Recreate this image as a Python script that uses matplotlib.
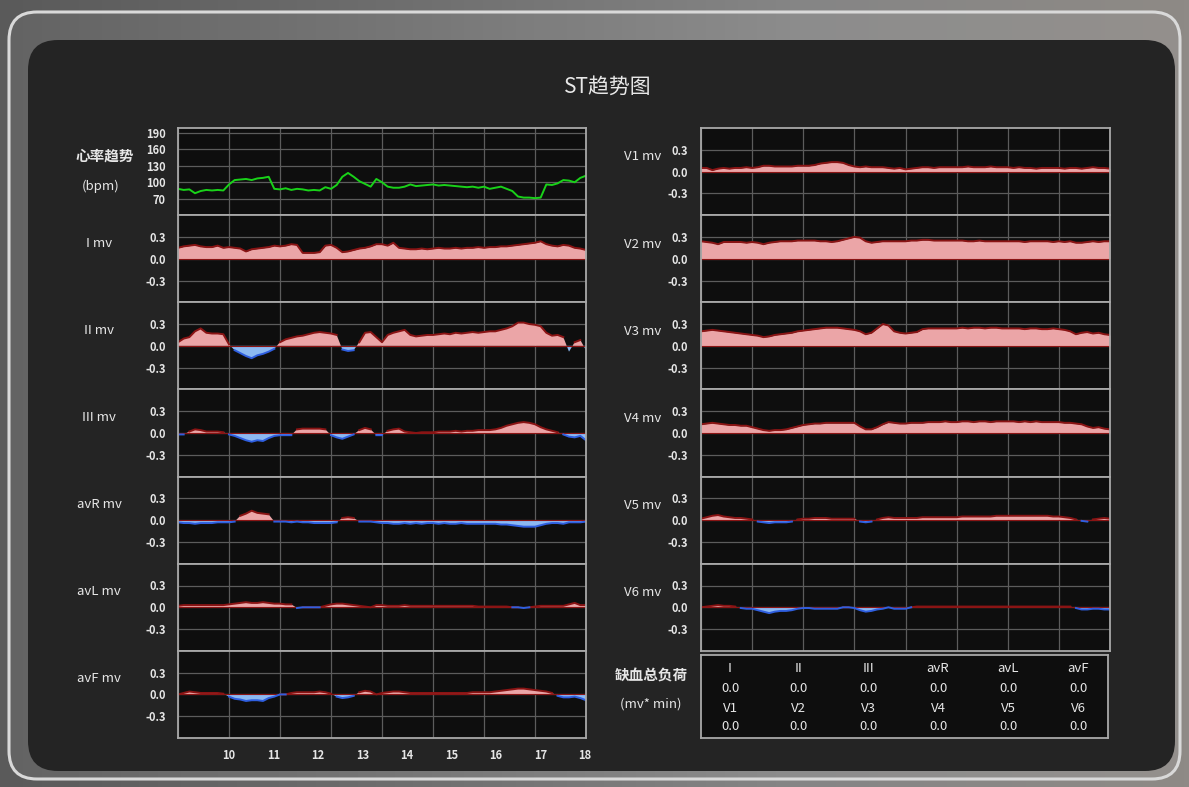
import numpy as np
import matplotlib.pyplot as plt
from matplotlib.patches import FancyBboxPatch
from matplotlib.colors import LinearSegmentedColormap

plt.rcParams['font.family'] = ['Noto Sans CJK SC', 'DejaVu Sans']

# sample times (hours of the day)
hours = np.linspace(8.85, 18.02, 73)
hour_ticks = [10, 11, 12, 13, 14, 15, 16, 17, 18]

# heart rate trend (bpm)
hr = [88, 86, 87, 80, 84, 86, 85, 86, 85,
      96, 104, 105, 106, 104, 107, 108, 110, 88,
      87, 89, 86, 88, 87, 85, 86, 85, 91,
      88, 95, 110, 117, 110, 102, 97, 92, 106,
      100, 92, 90, 90, 92, 96, 93, 94, 95,
      96, 94, 95, 94, 93, 92, 91, 92, 90,
      92, 88, 90, 92, 88, 84, 74, 72, 72,
      71, 72, 96, 95, 98, 104, 103, 100, 108,
      112]

# ST deviation per lead (mV)
st_I = [0.15, 0.17, 0.18, 0.19, 0.17, 0.16, 0.16, 0.18, 0.15,
        0.16, 0.15, 0.14, 0.10, 0.13, 0.14, 0.15, 0.16, 0.18,
        0.17, 0.18, 0.20, 0.19, 0.08, 0.08, 0.08, 0.09, 0.18,
        0.19, 0.15, 0.09, 0.10, 0.12, 0.14, 0.15, 0.17, 0.20,
        0.20, 0.18, 0.22, 0.15, 0.14, 0.13, 0.13, 0.14, 0.13,
        0.14, 0.15, 0.14, 0.14, 0.15, 0.14, 0.15, 0.15, 0.16,
        0.15, 0.16, 0.16, 0.17, 0.17, 0.18, 0.19, 0.20, 0.21,
        0.22, 0.24, 0.20, 0.18, 0.17, 0.19, 0.18, 0.15, 0.14,
        0.12]
st_II = [0.05, 0.10, 0.12, 0.20, 0.24, 0.18, 0.17, 0.17, 0.16,
         0.02, -0.06, -0.10, -0.14, -0.17, -0.13, -0.11, -0.08, -0.04,
         0.05, 0.09, 0.11, 0.13, 0.14, 0.16, 0.18, 0.19, 0.18,
         0.17, 0.15, -0.05, -0.07, -0.06, 0.05, 0.18, 0.19, 0.12,
         0.05, 0.15, 0.18, 0.20, 0.22, 0.15, 0.13, 0.14, 0.15,
         0.15, 0.16, 0.17, 0.16, 0.18, 0.17, 0.18, 0.19, 0.18,
         0.19, 0.20, 0.20, 0.22, 0.24, 0.27, 0.32, 0.32, 0.30,
         0.29, 0.27, 0.18, 0.14, 0.15, 0.12, -0.08, 0.05, 0.08,
         -0.06]
st_III = [-0.02, -0.02, 0.02, 0.05, 0.04, 0.02, 0.02, 0.02, 0.01,
          -0.02, -0.04, -0.07, -0.10, -0.12, -0.10, -0.11, -0.07, -0.04,
          -0.03, -0.03, -0.03, 0.05, 0.06, 0.06, 0.06, 0.06, 0.05,
          -0.03, -0.06, -0.08, -0.05, -0.02, 0.04, 0.07, 0.05, -0.03,
          -0.03, 0.03, 0.05, 0.06, 0.02, 0.01, 0.00, 0.01, 0.01,
          0.01, 0.02, 0.02, 0.02, 0.03, 0.02, 0.03, 0.03, 0.04,
          0.04, 0.04, 0.05, 0.07, 0.10, 0.12, 0.14, 0.15, 0.14,
          0.12, 0.08, 0.05, 0.03, 0.01, -0.02, -0.05, -0.06, -0.04,
          -0.10]
st_avR = [-0.03, -0.04, -0.04, -0.05, -0.04, -0.04, -0.04, -0.03, -0.03,
          -0.03, -0.02, 0.06, 0.09, 0.13, 0.10, 0.09, 0.08, -0.02,
          -0.02, -0.02, -0.03, -0.02, -0.03, -0.03, -0.04, -0.04, -0.04,
          -0.04, -0.03, 0.03, 0.04, 0.03, -0.02, -0.02, -0.02, -0.03,
          -0.04, -0.04, -0.05, -0.05, -0.04, -0.05, -0.04, -0.05, -0.04,
          -0.04, -0.05, -0.04, -0.05, -0.05, -0.04, -0.05, -0.05, -0.05,
          -0.05, -0.05, -0.05, -0.06, -0.06, -0.07, -0.08, -0.09, -0.09,
          -0.09, -0.07, -0.05, -0.04, -0.04, -0.05, -0.03, -0.03, -0.03,
          -0.02]
st_avL = [0.02, 0.03, 0.03, 0.03, 0.03, 0.03, 0.03, 0.03, 0.03,
          0.04, 0.05, 0.06, 0.07, 0.06, 0.06, 0.07, 0.06, 0.05,
          0.05, 0.04, 0.04, -0.01, 0.00, 0.00, 0.00, 0.00, 0.02,
          0.04, 0.05, 0.05, 0.04, 0.03, 0.02, 0.01, 0.00, 0.03,
          0.03, 0.02, 0.02, 0.02, 0.03, 0.02, 0.02, 0.02, 0.02,
          0.02, 0.02, 0.02, 0.02, 0.02, 0.02, 0.02, 0.02, 0.01,
          0.01, 0.01, 0.01, 0.01, 0.01, 0.00, 0.00, -0.01, 0.00,
          0.01, 0.02, 0.02, 0.02, 0.02, 0.02, 0.04, 0.06, 0.03,
          0.03]
st_avF = [0.00, 0.02, 0.04, 0.03, 0.02, 0.02, 0.02, 0.02, 0.01,
          -0.03, -0.06, -0.07, -0.09, -0.08, -0.08, -0.09, -0.05, -0.03,
          0.00, 0.00, 0.02, 0.03, 0.03, 0.03, 0.03, 0.04, 0.03,
          0.01, -0.03, -0.05, -0.04, -0.02, 0.03, 0.05, 0.04, 0.00,
          0.02, 0.03, 0.04, 0.04, 0.03, 0.02, 0.02, 0.02, 0.02,
          0.02, 0.02, 0.02, 0.02, 0.02, 0.02, 0.02, 0.03, 0.03,
          0.03, 0.03, 0.04, 0.05, 0.06, 0.07, 0.08, 0.08, 0.07,
          0.06, 0.05, 0.04, 0.02, -0.02, -0.04, -0.04, -0.03, -0.05,
          -0.08]
st_V1 = [0.05, 0.05, 0.02, 0.04, 0.05, 0.04, 0.05, 0.05, 0.06,
         0.05, 0.06, 0.08, 0.08, 0.07, 0.07, 0.07, 0.07, 0.08,
         0.08, 0.08, 0.09, 0.11, 0.12, 0.13, 0.13, 0.12, 0.09,
         0.07, 0.06, 0.07, 0.06, 0.06, 0.06, 0.05, 0.04, 0.05,
         0.03, 0.04, 0.05, 0.06, 0.06, 0.05, 0.06, 0.06, 0.06,
         0.06, 0.06, 0.07, 0.06, 0.06, 0.06, 0.07, 0.06, 0.06,
         0.06, 0.05, 0.06, 0.05, 0.05, 0.04, 0.05, 0.05, 0.05,
         0.05, 0.04, 0.05, 0.05, 0.04, 0.05, 0.06, 0.05, 0.05,
         0.04]
st_V2 = [0.24, 0.23, 0.22, 0.20, 0.23, 0.23, 0.23, 0.23, 0.22,
         0.23, 0.22, 0.20, 0.22, 0.23, 0.24, 0.24, 0.24, 0.25,
         0.25, 0.25, 0.25, 0.24, 0.24, 0.23, 0.24, 0.26, 0.28,
         0.30, 0.29, 0.24, 0.22, 0.23, 0.24, 0.24, 0.24, 0.24,
         0.24, 0.25, 0.25, 0.26, 0.26, 0.25, 0.25, 0.25, 0.25,
         0.25, 0.25, 0.24, 0.24, 0.25, 0.24, 0.24, 0.24, 0.24,
         0.24, 0.24, 0.24, 0.23, 0.24, 0.24, 0.24, 0.24, 0.23,
         0.24, 0.23, 0.24, 0.22, 0.22, 0.23, 0.24, 0.23, 0.24,
         0.24]
st_V3 = [0.20, 0.21, 0.22, 0.21, 0.20, 0.19, 0.18, 0.17, 0.16,
         0.15, 0.14, 0.12, 0.13, 0.15, 0.16, 0.17, 0.18, 0.20,
         0.21, 0.22, 0.23, 0.24, 0.25, 0.25, 0.25, 0.24, 0.23,
         0.22, 0.20, 0.16, 0.18, 0.24, 0.30, 0.28, 0.20, 0.18,
         0.17, 0.18, 0.19, 0.23, 0.24, 0.24, 0.24, 0.24, 0.24,
         0.24, 0.25, 0.24, 0.25, 0.25, 0.24, 0.25, 0.25, 0.24,
         0.24, 0.24, 0.24, 0.23, 0.24, 0.24, 0.23, 0.23, 0.24,
         0.23, 0.22, 0.20, 0.16, 0.18, 0.19, 0.17, 0.18, 0.16,
         0.15]
st_V4 = [0.12, 0.13, 0.14, 0.13, 0.12, 0.11, 0.11, 0.10, 0.10,
         0.08, 0.06, 0.04, 0.03, 0.04, 0.04, 0.05, 0.07, 0.09,
         0.11, 0.12, 0.13, 0.13, 0.14, 0.14, 0.14, 0.14, 0.14,
         0.14, 0.09, 0.05, 0.05, 0.08, 0.12, 0.15, 0.14, 0.13,
         0.13, 0.14, 0.14, 0.14, 0.15, 0.15, 0.15, 0.16, 0.15,
         0.15, 0.16, 0.16, 0.15, 0.16, 0.16, 0.15, 0.16, 0.16,
         0.16, 0.16, 0.15, 0.16, 0.15, 0.16, 0.15, 0.15, 0.15,
         0.15, 0.14, 0.14, 0.13, 0.12, 0.09, 0.07, 0.08, 0.06,
         0.05]
st_V5 = [0.02, 0.04, 0.06, 0.07, 0.05, 0.04, 0.03, 0.03, 0.02,
         0.01, -0.02, -0.03, -0.04, -0.03, -0.03, -0.03, -0.02, 0.01,
         0.02, 0.02, 0.03, 0.03, 0.03, 0.02, 0.02, 0.02, 0.02,
         0.02, -0.02, -0.03, -0.02, 0.01, 0.03, 0.04, 0.03, 0.03,
         0.03, 0.03, 0.03, 0.04, 0.04, 0.04, 0.04, 0.04, 0.04,
         0.04, 0.05, 0.05, 0.05, 0.05, 0.05, 0.05, 0.06, 0.06,
         0.06, 0.06, 0.06, 0.06, 0.06, 0.06, 0.06, 0.06, 0.05,
         0.05, 0.04, 0.03, 0.01, -0.01, -0.02, 0.01, 0.02, 0.03,
         0.02]
st_V6 = [0.00, 0.01, 0.02, 0.03, 0.02, 0.02, 0.01, -0.01, -0.02,
         -0.02, -0.04, -0.06, -0.08, -0.06, -0.05, -0.05, -0.04, -0.02,
         -0.01, -0.01, -0.02, -0.02, -0.02, -0.02, -0.02, 0.00, 0.00,
         -0.01, -0.04, -0.06, -0.05, -0.03, -0.02, 0.00, -0.02, -0.02,
         -0.02, 0.00, 0.01, 0.01, 0.01, 0.01, 0.01, 0.01, 0.01,
         0.01, 0.01, 0.01, 0.01, 0.01, 0.01, 0.01, 0.01, 0.01,
         0.01, 0.01, 0.01, 0.01, 0.01, 0.01, 0.01, 0.01, 0.01,
         0.01, 0.01, 0.01, -0.01, -0.03, -0.03, -0.02, -0.02, -0.03,
         -0.03]

left_leads = ["I", "II", "III", "avR", "avL", "avF"]
left_st = [st_I, st_II, st_III, st_avR, st_avL, st_avF]
right_leads = ["V1", "V2", "V3", "V4", "V5", "V6"]
right_st = [st_V1, st_V2, st_V3, st_V4, st_V5, st_V6]

# ischemic burden table
burden_row1 = ["I", "II", "III", "avR", "avL", "avF"]
burden_val1 = [0.0, 0.0, 0.0, 0.0, 0.0, 0.0]
burden_row2 = ["V1", "V2", "V3", "V4", "V5", "V6"]
burden_val2 = [0.0, 0.0, 0.0, 0.0, 0.0, 0.0]

W, H = 1189, 787
fig = plt.figure(figsize=(W / 100, H / 100), dpi=100)


def fx(px):
    return px / W


def fy(py):
    return 1 - py / H


# background, rounded frame and dark board
bg = fig.add_axes([0, 0, 1, 1], zorder=-10)
bg.set_xlim(0, W)
bg.set_ylim(H, 0)
bg.axis('off')
bg_cmap = LinearSegmentedColormap.from_list('bg', ['#5a5a5a', '#6e6e6e', '#858585', '#8e8a86'])
bg.imshow(np.linspace(0, 1, 256)[None, :], extent=[0, W, H, 0], cmap=bg_cmap, aspect='auto')
bg.add_patch(FancyBboxPatch((9, 12), 1171, 767, boxstyle='round,pad=0,rounding_size=28',
                            fc=(1, 1, 1, 0.06), ec='#d9d9d9', lw=2.2))
bg.add_patch(FancyBboxPatch((28, 40), 1147, 731, boxstyle='round,pad=0,rounding_size=30',
                            fc='#242424', ec='none'))

fig.text(fx(608), fy(87), "ST趋势图", ha='center', va='center', color='#e8e8e8', fontsize=15)

txt_color = '#e6e6e6'
grid_color = '#5c5c5c'
spine_color = '#a8a8a8'
face = '#0e0e0e'
xmin, xmax = 8.85, 18.02


def make_ax(x0, x1, top, bottom):
    ax = fig.add_axes([fx(x0), fy(bottom), fx(x1) - fx(x0), fy(top) - fy(bottom)])
    ax.set_facecolor(face)
    for s in ax.spines.values():
        s.set_color(spine_color)
        s.set_linewidth(1.3)
    ax.set_xlim(xmin, xmax)
    ax.set_xticks(hour_ticks)
    ax.set_xticks(np.linspace(xmin, xmax, 9), minor=True)
    ax.grid(False)
    ax.grid(True, which='minor', axis='x', color=grid_color, lw=0.9)
    ax.grid(True, which='major', axis='y', color=grid_color, lw=0.9)
    ax.tick_params(which='both', length=0, labelcolor=txt_color, labelsize=8, pad=9)
    ax.tick_params(axis='x', labelbottom=False)
    ax.set_axisbelow(True)
    return ax


def draw_st(ax, vals):
    y = np.array(vals)
    ax.fill_between(hours, y, 0, where=y >= 0, interpolate=True, color='#eba5a7', lw=0)
    ax.fill_between(hours, y, 0, where=y <= 0, interpolate=True, color='#8cb9f2', lw=0)
    ax.plot(hours, np.ma.masked_where(y < 0, y), color='#8a1414', lw=1.4)
    ax.plot(hours, np.ma.masked_where(y > 0, y), color='#2f5fe0', lw=1.4)
    ax.axhline(0, color='#8a1414', lw=0.8, zorder=1.5)
    ax.set_ylim(-0.6, 0.6)
    ax.set_yticks([-0.3, 0.0, 0.3])
    ax.set_yticklabels(["-0.3", "0.0", "0.3"], fontweight='bold')


row_h = (738 - 128) / 7
lx0, lx1 = 178, 586
rx0, rx1 = 701, 1110

# heart rate panel
ax_hr = make_ax(lx0, lx1, 128, 128 + row_h)
ax_hr.plot(hours, hr, color='#19d219', lw=1.4)
ax_hr.set_ylim(40, 199)
ax_hr.set_yticks([70, 100, 130, 160, 190])
ax_hr.set_yticklabels(["70", "100", "130", "160", "190"], fontweight='bold')
fig.text(fx(105), fy(156), "心率趋势", ha='center', va='center', color=txt_color,
         fontsize=10.5, fontweight='bold')
fig.text(fx(101), fy(186), "(bpm)", ha='center', va='center', color=txt_color, fontsize=9.5)

# limb leads
for i, (name, vals) in enumerate(zip(left_leads, left_st)):
    top = 128 + row_h * (i + 1)
    ax = make_ax(lx0, lx1, top, top + row_h)
    draw_st(ax, vals)
    fig.text(fx(99), fy(top + 28), f"{name} mv", ha='center', va='center',
             color=txt_color, fontsize=9.5)
    if i == len(left_leads) - 1:
        ax.tick_params(axis='x', labelbottom=True, pad=8)
        for lab in ax.get_xticklabels():
            lab.set_fontweight('bold')

# chest leads
for i, (name, vals) in enumerate(zip(right_leads, right_st)):
    top = 128 + row_h * i
    ax = make_ax(rx0, rx1, top, top + row_h)
    draw_st(ax, vals)
    fig.text(fx(643), fy(top + 29), f"{name} mv", ha='center', va='center',
             color=txt_color, fontsize=9.5)

# ischemic burden table
axt = fig.add_axes([fx(rx0), fy(738), fx(1108) - fx(rx0), fy(655) - fy(738)])
axt.set_facecolor(face)
axt.set_xticks([])
axt.set_yticks([])
for s in axt.spines.values():
    s.set_color(spine_color)
    s.set_linewidth(1.3)
fig.text(fx(651), fy(676), "缺血总负荷", ha='center', va='center', color=txt_color,
         fontsize=10.5, fontweight='bold')
fig.text(fx(651), fy(704), "(mv* min)", ha='center', va='center', color=txt_color, fontsize=9.5)
col_x = [730, 798, 868, 938, 1008, 1078]
rows = [(burden_row1, 669), ([f"{v:.1f}" for v in burden_val1], 688),
        (burden_row2, 708), ([f"{v:.1f}" for v in burden_val2], 727)]
for labels, yy in rows:
    for cx, lab in zip(col_x, labels):
        fig.text(fx(cx), fy(yy), lab, ha='center', va='center', color=txt_color, fontsize=9.5)

fig.savefig("out.png", dpi=100, facecolor=fig.get_facecolor())
